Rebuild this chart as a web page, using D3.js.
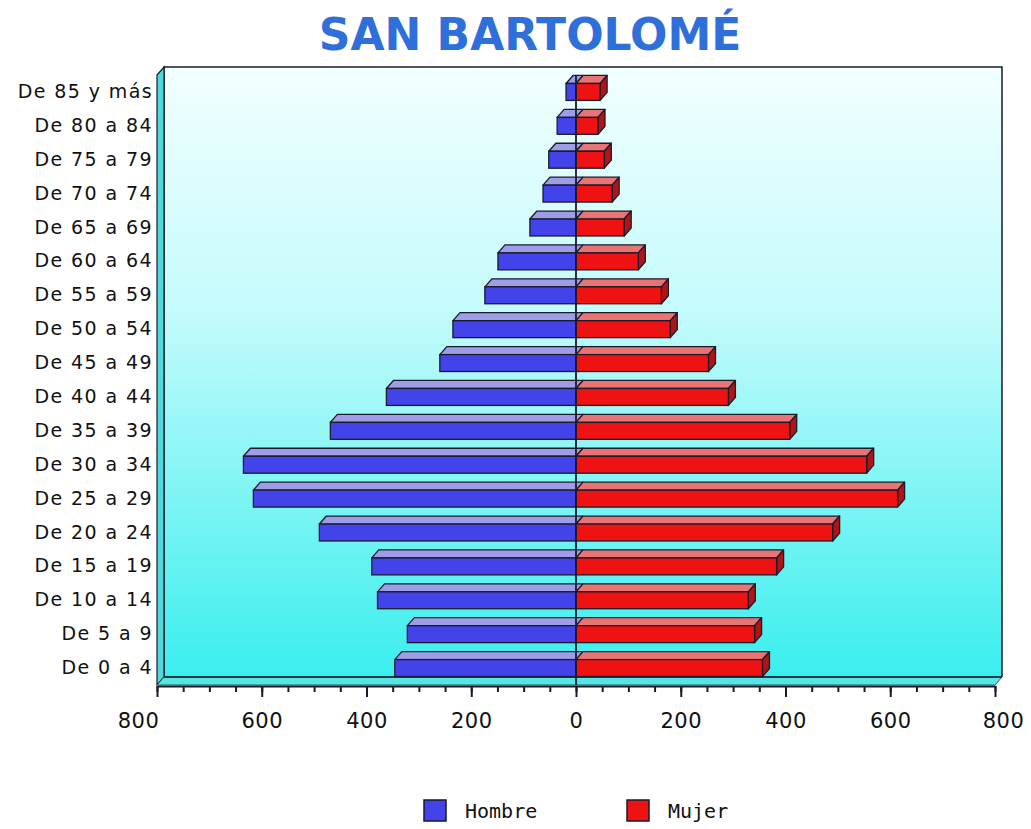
<!DOCTYPE html>
<html>
<head>
<meta charset="utf-8">
<script src="https://cdn.jsdelivr.net/npm/d3@7"></script>
<style>
  html, body { margin: 0; padding: 0; background: #ffffff; }
  svg { display: block; }
</style>
</head>
<body>
<svg id="chart" width="1031" height="829"></svg>
<script>
const title = "SAN BARTOLOMÉ";
const categories = ["De 85 y más","De 80 a 84","De 75 a 79","De 70 a 74","De 65 a 69","De 60 a 64",
  "De 55 a 59","De 50 a 54","De 45 a 49","De 40 a 44","De 35 a 39","De 30 a 34","De 25 a 29",
  "De 20 a 24","De 15 a 19","De 10 a 14","De 5 a 9","De 0 a 4"];
const hombre = [19,36,52,63,88,149,174,235,260,362,469,635,616,490,390,379,322,346];
const mujer  = [46,42,54,69,92,119,163,180,253,291,408,555,614,490,383,329,341,356];
const seriesNames = ["Hombre","Mujer"];
const tickValues = [-800,-600,-400,-200,0,200,400,600,800];
const minorTickValues = d3.range(-800, 801, 50);

const svg = d3.select("#chart");
const pLeft = 157, pRight = 995, pTop = 75, pBottom = 685;
const dx = 7, dy = 8;
const ink = "#1a1a2a";

const x = d3.scaleLinear().domain([-800, 800]).range([pLeft, pRight]);
const y = d3.scaleBand().domain(categories).range([pTop, pBottom]).paddingInner(0.5).paddingOuter(0.25);
const x0 = x(0);

// gradient
const defs = svg.append("defs");
const grad = defs.append("linearGradient").attr("id","bg").attr("x1",0).attr("y1",0).attr("x2",0).attr("y2",1);
grad.append("stop").attr("offset","0%").attr("stop-color","#f2ffff");
grad.append("stop").attr("offset","40%").attr("stop-color","#c4fbfb");
grad.append("stop").attr("offset","100%").attr("stop-color","#3aeeee");

// back wall
svg.append("rect").attr("x", pLeft+dx).attr("y", pTop-dy).attr("width", pRight-pLeft).attr("height", pBottom-pTop)
  .attr("fill","url(#bg)");
svg.append("path").attr("d", `M${pLeft+dx},${pBottom-dy} L${pLeft+dx},${pTop-dy} L${pRight+dx},${pTop-dy} L${pRight+dx},${pBottom-dy}`)
  .attr("fill","none").attr("stroke", ink).attr("stroke-width",1.5);
// left wall
svg.append("path").attr("d", `M${pLeft},${pTop} L${pLeft+dx},${pTop-dy} L${pLeft+dx},${pBottom-dy} L${pLeft},${pBottom} Z`)
  .attr("fill","#4fd9dd").attr("stroke", ink).attr("stroke-width",1.2);
// floor
svg.append("path").attr("d", `M${pLeft},${pBottom} L${pLeft+dx},${pBottom-dy} L${pRight+dx},${pBottom-dy} L${pRight},${pBottom} Z`)
  .attr("fill","#56e6e6").attr("stroke", "#2a5a5a").attr("stroke-width",1);
svg.append("line").attr("x1", pLeft+dx).attr("x2", pRight+dx).attr("y1", pBottom-dy).attr("y2", pBottom-dy)
  .attr("stroke", ink).attr("stroke-width",1.5);

// bars
const bh = y.bandwidth();
const gBars = svg.append("g");
categories.forEach((c, i) => {
  const yt = y(c), yb = yt + bh;
  // Hombre (left)
  const xl = x(-hombre[i]);
  gBars.append("path").attr("d", `M${xl},${yt} L${xl+dx},${yt-dy} L${x0+dx},${yt-dy} L${x0},${yt} Z`)
    .attr("fill","#9e9ee8").attr("stroke", ink).attr("stroke-width",1.3).attr("stroke-linejoin","round");
  gBars.append("rect").attr("x", xl).attr("y", yt).attr("width", x0-xl).attr("height", bh)
    .attr("fill","#4343ea").attr("stroke", ink).attr("stroke-width",1.3);
  // Mujer (right)
  const xr = x(mujer[i]);
  gBars.append("path").attr("d", `M${x0},${yt} L${x0+dx},${yt-dy} L${xr+dx},${yt-dy} L${xr},${yt} Z`)
    .attr("fill","#e87474").attr("stroke", ink).attr("stroke-width",1.3).attr("stroke-linejoin","round");
  gBars.append("path").attr("d", `M${xr},${yt} L${xr+dx},${yt-dy} L${xr+dx},${yb-dy} L${xr},${yb} Z`)
    .attr("fill","#b01515").attr("stroke", ink).attr("stroke-width",1.3).attr("stroke-linejoin","round");
  gBars.append("rect").attr("x", x0).attr("y", yt).attr("width", xr-x0).attr("height", bh)
    .attr("fill","#ee1212").attr("stroke", ink).attr("stroke-width",1.3);
});

// zero line
svg.append("line").attr("x1", x0).attr("x2", x0).attr("y1", pTop).attr("y2", pBottom)
  .attr("stroke", ink).attr("stroke-width",1.8);

// x axis
const axisY = pBottom + 1;
const gMinor = svg.append("g").attr("transform", `translate(0,${axisY})`)
  .call(d3.axisBottom(x).tickValues(minorTickValues).tickSize(6).tickFormat(""));
gMinor.select(".domain").remove();
gMinor.selectAll("line").attr("stroke", ink).attr("stroke-width",2);
const gAxis = svg.append("g").attr("transform", `translate(0,${axisY})`)
  .call(d3.axisBottom(x).tickValues(tickValues).tickSize(11).tickSizeOuter(0).tickPadding(16)
    .tickFormat(d => Math.abs(d)));
gAxis.select(".domain").attr("stroke", ink).attr("stroke-width",2);
gAxis.selectAll("line").attr("stroke", ink).attr("stroke-width",2);
gAxis.selectAll("text").attr("font-family","'DejaVu Sans', sans-serif").attr("font-size","21px")
  .attr("fill","#111").attr("letter-spacing","0.5px");
gAxis.selectAll("text").filter(d => d === -800).attr("dx", -19);
gAxis.selectAll("text").filter(d => d === 800).attr("dx", 8);

// category labels
const gY = svg.append("g").attr("transform", `translate(${pLeft - 4},0)`)
  .call(d3.axisLeft(y).tickSize(0).tickPadding(0));
gY.select(".domain").remove();
gY.selectAll("text").attr("font-family","'DejaVu Sans', sans-serif").attr("font-size","19px")
  .attr("fill","#111").attr("letter-spacing","1.4px");

// title
svg.append("text").attr("x", 530).attr("y", 50).attr("text-anchor","middle")
  .attr("font-family","'DejaVu Sans', sans-serif").attr("font-weight","bold").attr("font-size","44px")
  .attr("fill","#2f6fd9").text(title);

// legend
const legendColors = ["#4343ea","#ee1212"];
const legendX = [424, 627];
seriesNames.forEach((s, i) => {
  svg.append("rect").attr("x", legendX[i]).attr("y", 800).attr("width", 22).attr("height", 21)
    .attr("fill", legendColors[i]).attr("stroke", ink).attr("stroke-width",1.5);
  svg.append("text").attr("x", legendX[i] + 41).attr("y", 818)
    .attr("font-family","'DejaVu Sans Mono', monospace").attr("font-size","20px").attr("fill","#111")
    .text(s);
});
</script>
</body>
</html>
